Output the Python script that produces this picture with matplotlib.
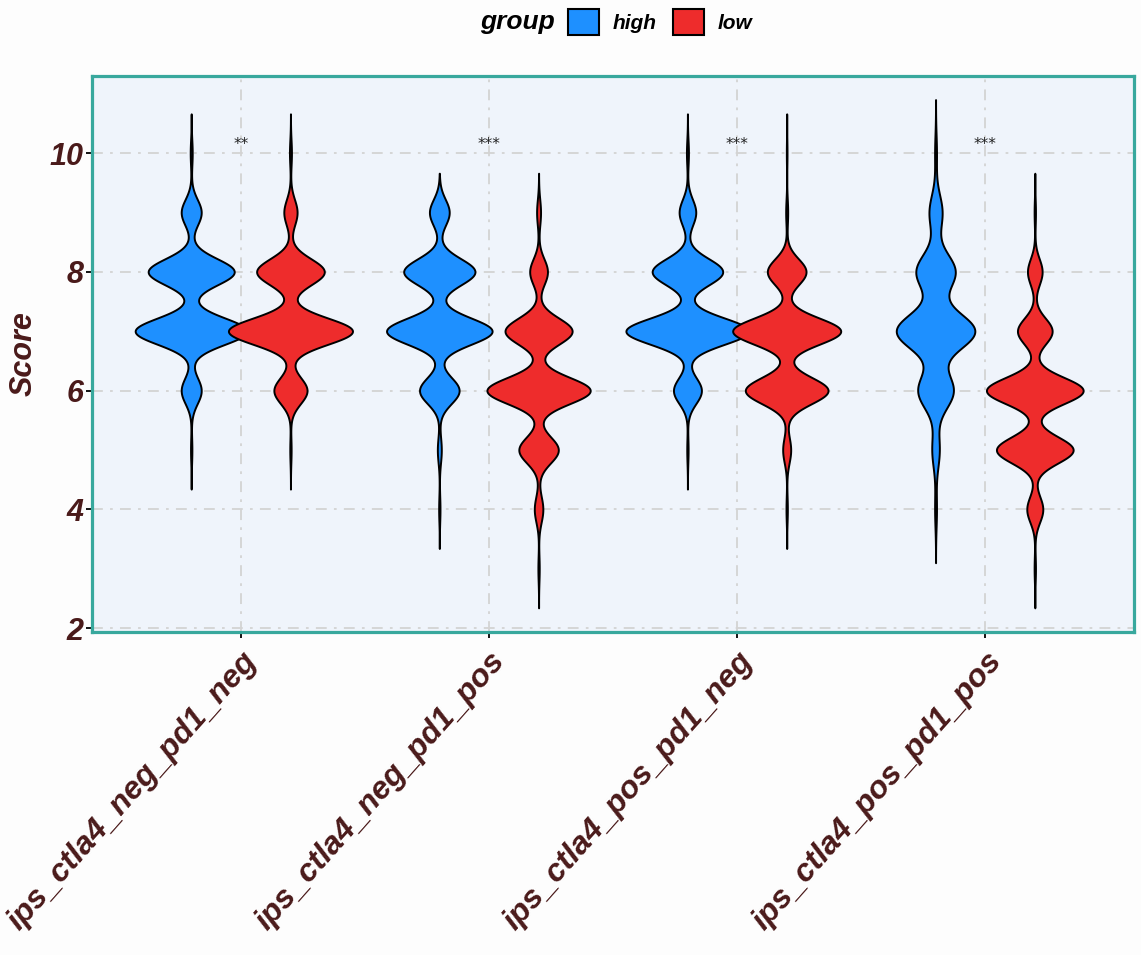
import numpy as np
import matplotlib
matplotlib.use("Agg")
import matplotlib.pyplot as plt
from matplotlib.patches import Patch

plt.rcParams['font.family'] = ['Liberation Sans', 'DejaVu Sans']

# ---- data (counts of each integer score) ----
categories = ["ips_ctla4_neg_pd1_neg", "ips_ctla4_neg_pd1_pos",
              "ips_ctla4_pos_pd1_neg", "ips_ctla4_pos_pd1_pos"]
score_values = [3, 4, 5, 6, 7, 8, 9, 10]

high_counts = [
    [0, 0, 2, 30, 168, 129, 30, 3],
    [0, 2, 6, 60, 160, 108, 30, 0],
    [0, 0, 2, 42, 185, 106, 25, 3],
    [0, 3, 12, 57, 126, 63, 21, 3],
]
low_counts = [
    [0, 0, 2, 50, 187, 102, 20, 3],
    [2, 13, 60, 157, 102, 27, 6, 0],
    [0, 2, 12, 124, 162, 58, 3, 1],
    [2, 24, 115, 145, 52, 22, 2, 0],
]
# kernel bandwidths
high_bw = [0.22, 0.22, 0.22, 0.30]
low_bw = [0.22, 0.22, 0.22, 0.22]

signif = ["**", "***", "***", "***"]

groups = ["high", "low"]
colors = {"high": "#1E90FF", "low": "#EE2C2C"}

text_col = "#4A1A1A"
frame_col = "#38A89D"


def kde(counts, bw):
    vals = np.array(score_values, dtype=float)
    c = np.array(counts, dtype=float)
    vmin = vals[c > 0].min()
    vmax = vals[c > 0].max()
    y = np.linspace(vmin - 3 * bw, vmax + 3 * bw, 600)
    d = np.zeros_like(y)
    for v, n in zip(vals, c):
        d += n * np.exp(-0.5 * ((y - v) / bw) ** 2)
    d /= c.sum() * bw * np.sqrt(2 * np.pi)
    return y, d


# compute all densities, scale="area" style
dens = {}
for i in range(len(categories)):
    dens[("high", i)] = kde(high_counts[i], high_bw[i])
    dens[("low", i)] = kde(low_counts[i], low_bw[i])
dmax = max(d.max() for _, d in dens.values())

fig = plt.figure(figsize=(11.41, 9.55), dpi=100)
fig.patch.set_facecolor("#FDFDFD")
ax = fig.add_axes([0.0806, 0.3382, 0.9133, 0.5822])
ax.set_facecolor("#EFF4FB")

pos = np.arange(1, len(categories) + 1)
offset = {"high": -0.2, "low": 0.2}
half_w = 0.25

for g in groups:
    for i in range(len(categories)):
        y, d = dens[(g, i)]
        w = d / dmax * half_w
        xc = pos[i] + offset[g]
        ax.fill_betweenx(y, xc - w, xc + w, facecolor=colors[g],
                         edgecolor="black", linewidth=1.4, zorder=3)

for i, s in enumerate(signif):
    ax.text(pos[i], 10.15, s, ha="center", va="center", fontsize=11,
            color="#222222", family="DejaVu Sans", zorder=4)

ax.set_xlim(0.4, 4.6)
ax.set_ylim(1.933, 11.297)
ax.set_xticks(pos)
ax.set_xticklabels(categories, rotation=48.5, ha="right", va="top",
                   rotation_mode="anchor", fontsize=23, fontweight="bold",
                   fontstyle="italic", color=text_col)
ax.set_yticks([2, 4, 6, 8, 10])
ax.set_yticklabels(["2", "4", "6", "8", "10"], fontsize=22, fontweight="bold",
                   fontstyle="italic", color=text_col)
ax.tick_params(axis="both", length=4, width=1.3, color="black", pad=2)
ax.tick_params(axis="x", pad=6)
ax.set_ylabel("Score", fontsize=22, fontweight="bold", fontstyle="italic",
              color=text_col, labelpad=8)

ax.grid(True, color="#D3D3D3", linewidth=1.3, linestyle=(0, (6, 4, 1.5, 4)), zorder=0)
ax.set_axisbelow(True)
for sp in ax.spines.values():
    sp.set_color(frame_col)
    sp.set_linewidth(2.3)

# legend at top
fig.text(0.4865, 1 - 22 / 955, "group", ha="right", va="center", fontsize=19,
         fontweight="bold", fontstyle="italic", color="black")
handles = [Patch(facecolor=colors[g], edgecolor="black", linewidth=1.5) for g in groups]
leg = fig.legend(handles, groups, ncol=2, loc="center left",
                 bbox_to_anchor=(0.481, 1 - 22 / 955), frameon=False,
                 prop={"size": 15, "weight": "bold", "style": "italic"},
                 handlelength=1.5, handleheight=1.5, columnspacing=0.8,
                 handletextpad=0.65)

fig.savefig("out.png", dpi=100, facecolor=fig.get_facecolor())
